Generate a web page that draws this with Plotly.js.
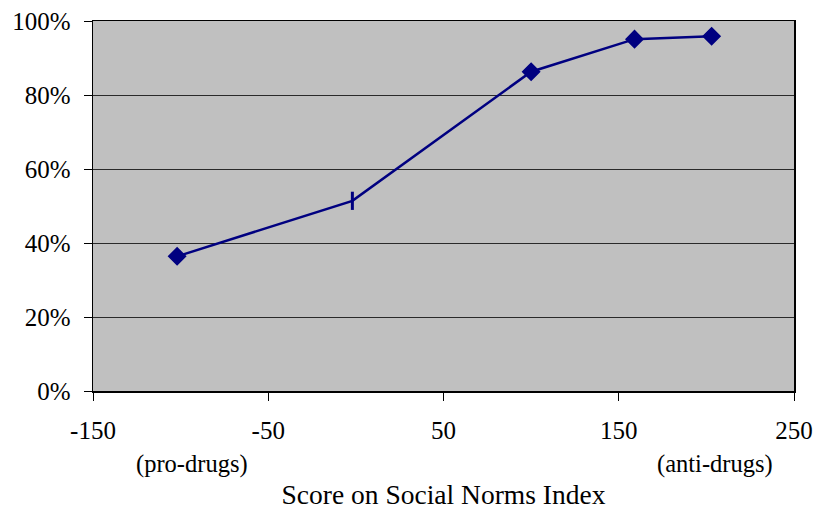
<!DOCTYPE html>
<html>
<head>
<meta charset="utf-8">
<script src="https://cdn.plot.ly/plotly-3.0.1.min.js"></script>
<style>html,body{margin:0;padding:0;background:#fff;}#chart{width:817px;height:510px;}</style>
</head>
<body>
<div id="chart"></div>
<script>
// Data
const scores = [-102, -2, 100, 159, 203];
const shares = [0.364, 0.514, 0.863, 0.951, 0.959];
const markerSymbols = ['diamond', 'line-ns', 'diamond', 'diamond', 'diamond'];
const xTicks = [-150, -50, 50, 150, 250];
const yTicks = [0, 0.2, 0.4, 0.6, 0.8, 1.0];
const yTickLabels = ['0%', '20%', '40%', '60%', '80%', '100%'];
const xTitle = 'Score on Social Norms Index';
const leftNote = '(pro-drugs)';
const rightNote = '(anti-drugs)';

const fam = 'Liberation Serif, Times New Roman, serif';
const font = {family: fam, color: '#000', size: 25};

const trace = {
  x: scores,
  y: shares,
  type: 'scatter',
  mode: 'lines+markers',
  line: {color: '#000080', width: 2.5},
  marker: {
    symbol: markerSymbols,
    size: [13, 13, 13, 13, 13],
    color: '#000080',
    opacity: 1,
    line: {color: '#000080', width: [1.5, 3, 1.5, 1.5, 1.5]}
  },
  hoverinfo: 'skip'
};

const layout = {
  width: 817,
  height: 510,
  margin: {l: 93, r: 23, t: 21, b: 119},
  paper_bgcolor: '#ffffff',
  plot_bgcolor: '#c0c0c0',
  showlegend: false,
  font: font,
  xaxis: {
    range: [-150, 250],
    tickvals: xTicks,
    ticktext: xTicks.map(String),
    ticks: 'outside',
    ticklen: 8,
    tickwidth: 1,
    tickcolor: '#000',
    showgrid: false,
    zeroline: false,
    showline: true,
    linecolor: '#000',
    linewidth: 1.5,
    mirror: true,
    ticklabelstandoff: 8,
    tickfont: font,
    title: {text: xTitle, font: {family: fam, size: 27.5, color: '#000'}, standoff: 52}
  },
  yaxis: {
    range: [0, 1],
    tickvals: yTicks,
    ticktext: yTickLabels,
    ticks: 'outside',
    ticklen: 8,
    tickwidth: 1,
    tickcolor: '#000',
    showgrid: true,
    gridcolor: '#2a2a2a',
    gridwidth: 1,
    zeroline: false,
    showline: true,
    linecolor: '#000',
    linewidth: 1.5,
    mirror: true,
    ticklabelstandoff: 8,
    tickfont: font
  },
  annotations: [
    {text: leftNote, xref: 'paper', yref: 'paper', x: 0.141, y: -0.198, xanchor: 'center', yanchor: 'middle', showarrow: false, font: {family: fam, size: 24.5, color: '#000'}},
    {text: rightNote, xref: 'paper', yref: 'paper', x: 0.887, y: -0.198, xanchor: 'center', yanchor: 'middle', showarrow: false, font: {family: fam, size: 24.5, color: '#000'}}
  ]
};

Plotly.newPlot('chart', [trace], layout, {displayModeBar: false, staticPlot: true});
</script>
</body>
</html>
